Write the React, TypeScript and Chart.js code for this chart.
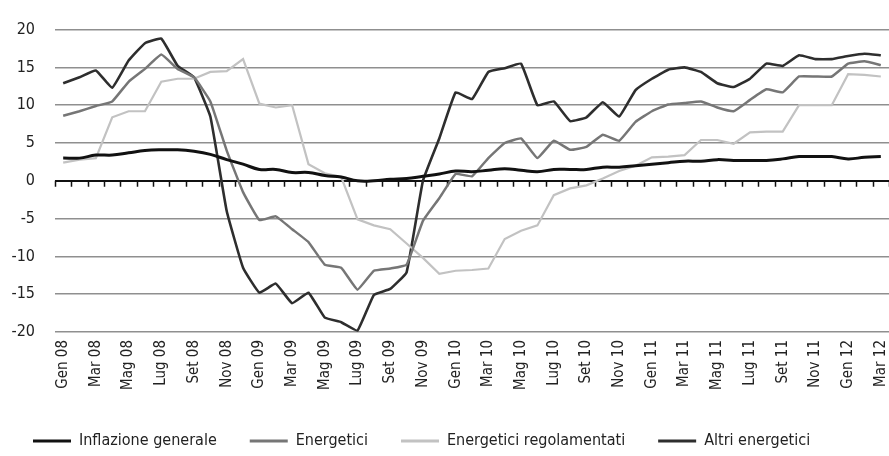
import React, { useEffect, useRef } from "react";
import { Chart, registerables } from "chart.js";

Chart.register(...registerables);

const months = ["Gen", "Feb", "Mar", "Apr", "Mag", "Giu", "Lug", "Ago", "Set", "Ott", "Nov", "Dic"];
const years = ["08", "09", "10", "11", "12"];
const categories: string[] = [];
years.forEach((y) => months.forEach((m) => categories.push(`${m} ${y}`)));
categories.splice(51);

const yTicks = [-20, -15, -10, -5, 0, 5, 10, 15, 20];

const seriesNames = ["Inflazione generale", "Energetici", "Energetici regolamentati", "Altri energetici"];

const inflazioneGenerale = [3.0, 3.0, 3.4, 3.4, 3.7, 4.0, 4.1, 4.1, 3.9, 3.5, 2.8, 2.2, 1.5, 1.5, 1.1, 1.1, 0.7, 0.5, 0.0, 0.0, 0.2, 0.3, 0.6, 0.9, 1.3, 1.2, 1.4, 1.6, 1.4, 1.2, 1.5, 1.5, 1.5, 1.8, 1.8, 2.0, 2.2, 2.4, 2.6, 2.6, 2.8, 2.7, 2.7, 2.7, 2.9, 3.2, 3.2, 3.2, 2.9, 3.1, 3.2];
const energetici = [8.6, 9.2, 9.9, 10.5, 13.1, 14.8, 16.7, 14.8, 13.7, 10.5, 4.0, -1.5, -5.2, -4.7, -6.4, -8.1, -11.1, -11.5, -14.4, -11.9, -11.6, -11.1, -5.3, -2.3, 0.9, 0.6, 3.0, 5.0, 5.6, 3.0, 5.3, 4.1, 4.5, 6.1, 5.3, 7.8, 9.2, 10.1, 10.3, 10.5, 9.7, 9.2, 10.7, 12.1, 11.7, 13.8, 13.8, 13.8, 15.5, 15.8, 15.3];
const energeticiRegolamentati = [2.4, 2.8, 3.0, 8.4, 9.2, 9.2, 13.1, 13.5, 13.5, 14.4, 14.5, 16.1, 10.2, 9.7, 10.0, 2.2, 1.0, 0.5, -5.1, -5.9, -6.4, -8.3, -10.2, -12.3, -11.9, -11.8, -11.6, -7.7, -6.6, -5.9, -1.9, -1.0, -0.6, 0.3, 1.3, 2.0, 3.1, 3.2, 3.4, 5.4, 5.4, 4.9, 6.4, 6.5, 6.5, 10.0, 10.0, 10.0, 14.1, 14.0, 13.8];
const altriEnergetici = [12.9, 13.7, 14.6, 12.3, 15.9, 18.2, 18.8, 15.2, 13.7, 8.5, -4.0, -11.5, -14.8, -13.6, -16.2, -14.8, -18.1, -18.7, -19.8, -15.1, -14.3, -12.1, 0.0, 5.6, 11.7, 10.8, 14.4, 14.9, 15.5, 10.0, 10.5, 7.9, 8.4, 10.4, 8.5, 12.0, 13.5, 14.7, 15.0, 14.4, 12.9, 12.4, 13.5, 15.5, 15.2, 16.6, 16.1, 16.1, 16.5, 16.8, 16.6];

const FONT = '"DejaVu Sans Condensed", "Liberation Sans", sans-serif';

const zeroAxisPlugin = {
  id: "zeroAxis",
  beforeDatasetsDraw(chart: any) {
    const { ctx } = chart;
    const x = chart.scales.x;
    const y = chart.scales.y;
    const y0 = y.getPixelForValue(0);
    const n = categories.length;
    const w = (x.right - x.left) / n;
    ctx.save();
    ctx.strokeStyle = "#111";
    ctx.lineWidth = 1.5;
    ctx.beginPath();
    for (let i = 0; i <= n; i++) {
      const px = Math.round(x.left + i * w) + 0.5;
      ctx.moveTo(px, y0);
      ctx.lineTo(px, y0 + 6);
    }
    ctx.stroke();
    ctx.restore();
  },
};

export default function App() {
  const ref = useRef<HTMLCanvasElement>(null);
  useEffect(() => {
    if (!ref.current) return;
    const colors = ["#111111", "#767676", "#c2c2c2", "#2e2e2e"];
    const widths = [3, 2.5, 2.2, 2.6];
    const tensions = [0.4, 0.1, 0, 0.1];
    const data = [inflazioneGenerale, energetici, energeticiRegolamentati, altriEnergetici];
    const chart = new Chart(ref.current, {
      type: "line",
      data: {
        labels: categories,
        datasets: seriesNames.map((name, i) => ({
          label: name,
          data: data[i],
          borderColor: colors[i],
          backgroundColor: colors[i],
          borderWidth: widths[i],
          pointRadius: 0,
          tension: tensions[i],
          fill: false,
        })),
      },
      options: {
        responsive: false,
        animation: false,
        layout: { padding: { top: 21, left: 0, right: 0, bottom: -3 } },
        plugins: {
          tooltip: { enabled: false },
          legend: {
            position: "bottom",
            align: "start",
            labels: {
              boxWidth: 38,
              boxHeight: 3,
              padding: 33,
              color: "#222",
              font: { family: FONT, size: 16 },
              generateLabels: (c: any) =>
                (Chart.defaults.plugins.legend.labels as any)
                  .generateLabels(c)
                  .map((l: any) => ({ ...l, lineWidth: 0, fillStyle: l.strokeStyle })),
            },
          },
        },
        scales: {
          x: {
            offset: true,
            grid: { display: false, drawTicks: false, offset: true },
            border: { display: false },
            ticks: {
              autoSkip: false,
              minRotation: 90,
              maxRotation: 90,
              padding: 8,
              color: "#222",
              font: { family: FONT, size: 15 },
              callback: (_v: any, i: number) => (i % 2 === 0 ? categories[i] : ""),
            },
            afterFit: (s: any) => {
              s.height = 68;
              s.paddingLeft = 0;
              s.paddingRight = 0;
            },
          },
          y: {
            min: yTicks[0],
            max: yTicks[yTicks.length - 1],
            afterBuildTicks: (s: any) => {
              s.ticks = yTicks.map((v) => ({ value: v }));
            },
            border: { display: false },
            grid: {
              drawTicks: false,
              color: (c: any) => (c.tick && c.tick.value === 0 ? "#111" : "#8f8f8f"),
              lineWidth: (c: any) => (c.tick && c.tick.value === 0 ? 2 : 1.5),
            },
            ticks: {
              padding: 20,
              color: "#222",
              font: { family: FONT, size: 16 },
            },
            afterFit: (s: any) => {
              s.width = 55;
            },
          },
        },
      },
      plugins: [zeroAxisPlugin],
    });
    return () => chart.destroy();
  }, []);
  return (
    <div style={{ position: "fixed", left: 0, top: 0, width: 889, height: 456, background: "#fff" }}>
      <canvas ref={ref} width={889} height={456} style={{ display: "block" }} />
    </div>
  );
}
